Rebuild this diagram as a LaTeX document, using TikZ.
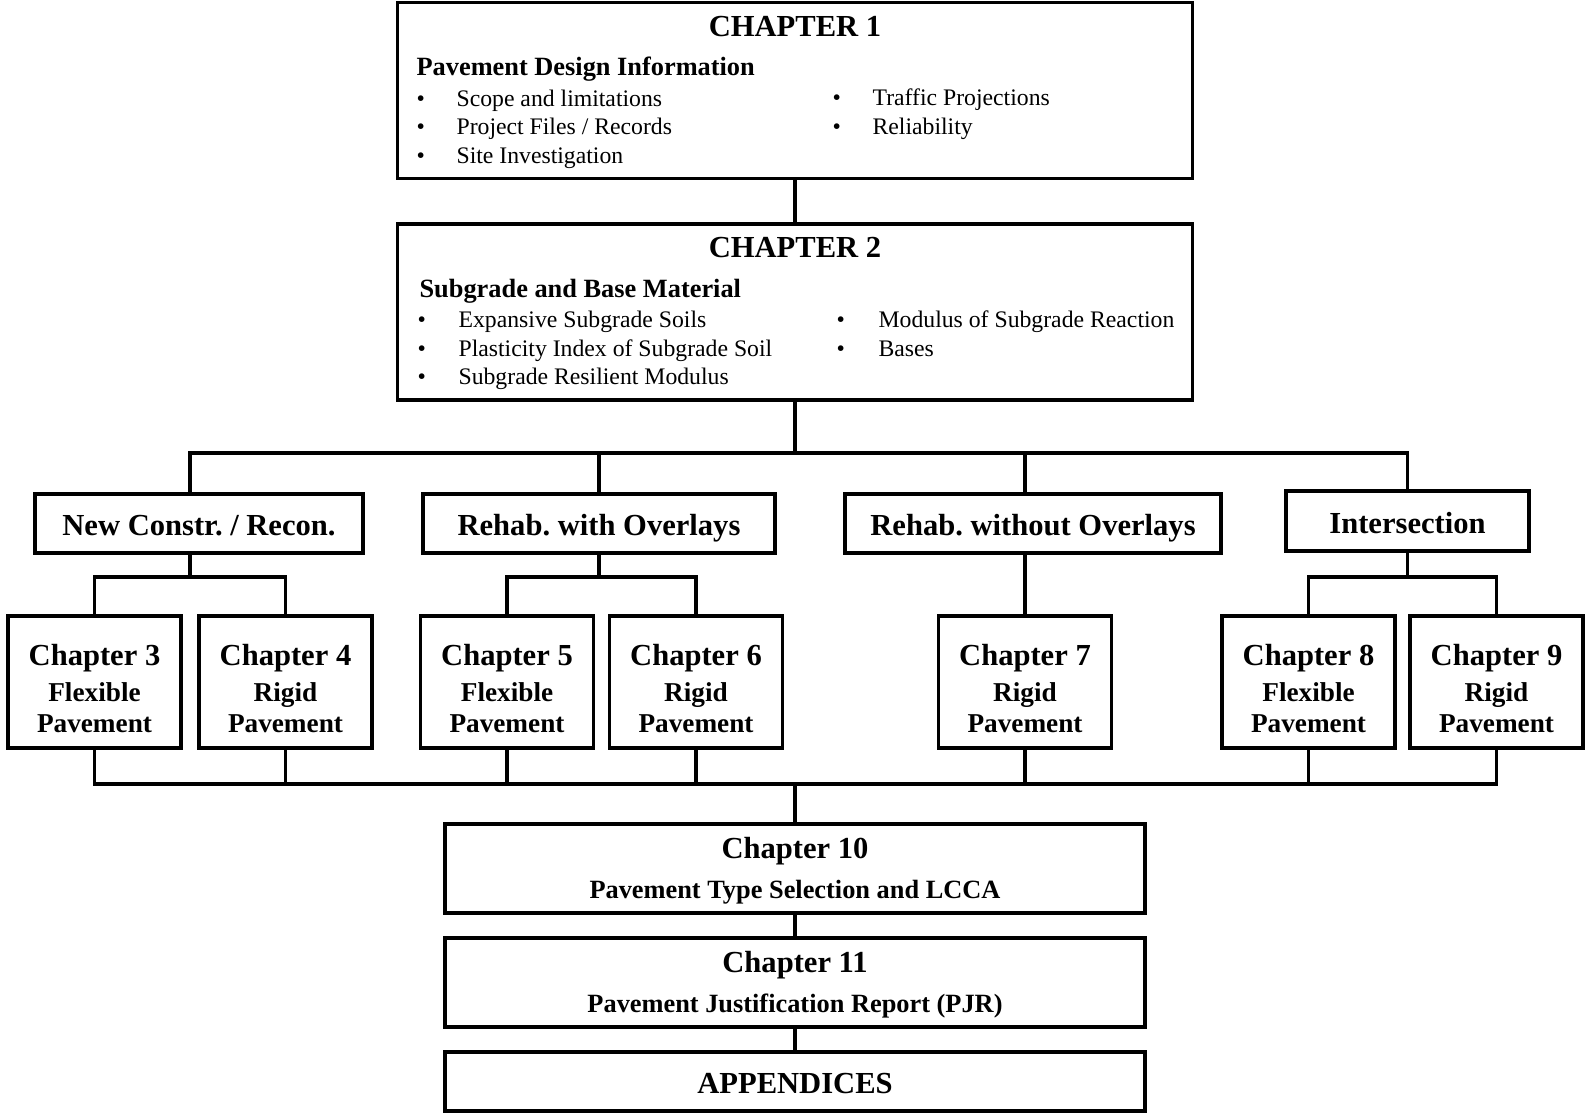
\documentclass[tikz,border=0pt]{standalone}
\usepackage{fontspec}
\setmainfont{Liberation Serif}
\usetikzlibrary{calc}
\frenchspacing

\begin{document}
\begin{tikzpicture}[line width=1.8pt,
	box/.style={draw,line width=1.8pt,inner sep=0pt},
	bigbox/.style={box,minimum width=15.9cm,minimum height=3.53cm},
	branch/.style={box,minimum height=1.18cm,text height=14.2pt,text depth=0pt,
		font={\fontsize{17.4}{21}\selectfont\bfseries}},
	chap/.style={box,minimum width=3.46cm,minimum height=2.64cm,align=center,
		font={\fontsize{15.5}{17.6}\selectfont\bfseries}},
	longbox/.style={box,minimum width=14cm,align=center,font={\fontsize{15}{18}\selectfont\bfseries}},
	chtitle/.style={inner sep=0pt,font={\fontsize{17.4}{21}\selectfont\bfseries}},
	head/.style={anchor=west,inner sep=0pt,text height=1.6ex,text depth=0.4ex,
		font={\fontsize{15}{18}\selectfont\bfseries}},
	item/.style={anchor=west,inner sep=0pt,text height=1.6ex,text depth=0.4ex,
		font={\fontsize{13.5}{16}\selectfont}}]
	
	\useasboundingbox (0,0) rectangle (31.7,-22.28);
	
	% top two boxes
	\node[bigbox] (ch1) at (15.9,-1.81) {};
	\node[chtitle] (t1) at (15.9,-0.54) {CHAPTER 1};
	\node[head] (h1) at (8.30,-1.42) {Pavement Design Information};
	\node[item] (i11) at (8.30,-2.04) {\makebox[0.8cm][l]{\textbullet}Scope and limitations};
	\node[item] (i12) at (8.30,-2.60) {\makebox[0.8cm][l]{\textbullet}Project Files / Records};
	\node[item] (i13) at (8.30,-3.18) {\makebox[0.8cm][l]{\textbullet}Site Investigation};
	\node[item] (i14) at (16.62,-2.02) {\makebox[0.8cm][l]{\textbullet}Traffic Projections};
	\node[item] (i15) at (16.62,-2.60) {\makebox[0.8cm][l]{\textbullet}Reliability};
	
	\node[bigbox, minimum height=3.52cm] (ch2) at (15.9,-6.24) {};
	\node[chtitle] (t2) at (15.9,-4.96) {CHAPTER 2};
	\node[head] (h2) at (8.36,-5.86) {Subgrade and Base Material};
	\node[item] (i21) at (8.32,-6.46) {\makebox[0.82cm][l]{\textbullet}Expansive Subgrade Soils};
	\node[item] (i22) at (8.32,-7.04) {\makebox[0.82cm][l]{\textbullet}Plasticity Index of Subgrade Soil};
	\node[item] (i23) at (8.32,-7.60) {\makebox[0.82cm][l]{\textbullet}Subgrade Resilient Modulus};
	\node[item] (i24) at (16.70,-6.46) {\makebox[0.84cm][l]{\textbullet}Modulus of Subgrade Reaction};
	\node[item] (i25) at (16.70,-7.04) {\makebox[0.84cm][l]{\textbullet}Bases};
	
	% design branches
	\node[branch, minimum width=6.56cm] (newc)  at (3.98,-10.47)  {New Constr. / Recon.};
	\node[branch, minimum width=7.04cm] (rwith) at (11.98,-10.47) {Rehab. with Overlays};
	\node[branch, minimum width=7.52cm] (rwo)   at (20.66,-10.47) {Rehab. without Overlays};
	\node[branch, minimum width=4.86cm, minimum height=1.2cm] (inter) at (28.15,-10.42) {Intersection};
	
	\node[chap] (ch3) at (1.89,-13.64)  {\rule{0pt}{19pt}{\fontsize{17.4}{17.6}\selectfont Chapter 3}\\[3pt]Flexible\\Pavement};
	\node[chap] (ch4) at (5.71,-13.64)  {\rule{0pt}{19pt}{\fontsize{17.4}{17.6}\selectfont Chapter 4}\\[3pt]Rigid\\Pavement};
	\node[chap] (ch5) at (10.14,-13.64) {\rule{0pt}{19pt}{\fontsize{17.4}{17.6}\selectfont Chapter 5}\\[3pt]Flexible\\Pavement};
	\node[chap] (ch6) at (13.92,-13.64) {\rule{0pt}{19pt}{\fontsize{17.4}{17.6}\selectfont Chapter 6}\\[3pt]Rigid\\Pavement};
	\node[chap] (ch7) at (20.50,-13.64) {\rule{0pt}{19pt}{\fontsize{17.4}{17.6}\selectfont Chapter 7}\\[3pt]Rigid\\Pavement};
	\node[chap] (ch8) at (26.17,-13.64) {\rule{0pt}{19pt}{\fontsize{17.4}{17.6}\selectfont Chapter 8}\\[3pt]Flexible\\Pavement};
	\node[chap] (ch9) at (29.93,-13.64) {\rule{0pt}{19pt}{\fontsize{17.4}{17.6}\selectfont Chapter 9}\\[3pt]Rigid\\Pavement};
	
	% final chapters
	\node[longbox, minimum height=1.78cm] (ch10) at (15.9,-17.37)
		{\rule{0pt}{14.5pt}{\fontsize{17.4}{18}\selectfont Chapter 10}\\[5pt]Pavement Type Selection and LCCA};
	\node[longbox, minimum height=1.78cm] (ch11) at (15.9,-19.65)
		{\rule{0pt}{14.5pt}{\fontsize{17.4}{18}\selectfont Chapter 11}\\[5pt]Pavement Justification Report (PJR)};
	\node[longbox, minimum height=1.18cm, text height=14.2pt, text depth=0pt,
		font={\fontsize{17.4}{21}\selectfont\bfseries}] (app) at (15.9,-21.63) {APPENDICES};
	
	\coordinate (top) at (0,-9.06);
	\coordinate (sub) at (0,-11.54);
	\coordinate (low) at (0,-15.68);
	\coordinate (nmid) at ($(ch3.north)!0.5!(ch4.north)$);
	
	% upper tree
	\draw (ch1) -- (ch2);
	\draw (ch2.south) -- (ch2.south |- top);
	\draw (nmid |- newc.north) |- (inter.north |- top) -- (inter.north);
	\path (rwith) edge (rwith.north |- top)
	(ch7 |- rwo.north) edge (ch7 |- top)
	(ch7) edge (ch7 |- rwo.south);
	
	\draw (ch3.north) |- (ch4.north |- sub) -- (ch4.north);
	\draw (nmid |- newc.south) -- (nmid |- sub);
	\draw (ch5.north) |- (ch6.north |- sub) -- (ch6.north);
	\draw (rwith.south) -- (rwith.south |- sub);
	\draw (ch8.north) |- (ch9.north |- sub) -- (ch9.north);
	\draw (inter.south) -- (inter.south |- sub);
	
	% lower tree
	\draw (ch3.south) |- (ch9.south |- low) -- (ch9.south);
	\path (ch4) edge (ch4.south |- low)
	(ch5) edge (ch5.south |- low)
	(ch6) edge (ch6.south |- low)
	(ch7) edge (ch7.south |- low)
	(ch8) edge (ch8.south |- low)
	(ch10) edge (ch10.north |- low)
	(ch10) edge (ch11)
	(ch11) edge (app);
\end{tikzpicture}
\end{document}
